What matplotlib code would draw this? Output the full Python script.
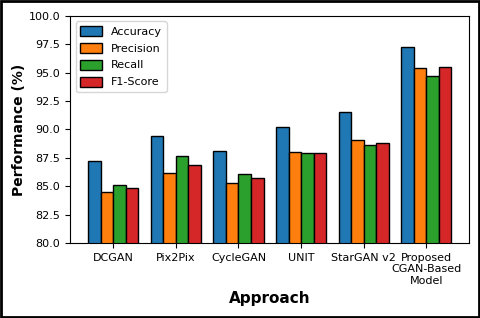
import matplotlib.pyplot as plt
import numpy as np

approaches = ["DCGAN", "Pix2Pix", "CycleGAN", "UNIT", "StarGAN v2",
              "Proposed\nCGAN-Based\nModel"]
accuracy = [87.2, 89.4, 88.1, 90.2, 91.5, 97.3]
precision = [84.5, 86.2, 85.3, 88.0, 89.1, 95.4]
recall = [85.1, 87.7, 86.1, 87.9, 88.6, 94.7]
f1_score = [84.8, 86.9, 85.7, 87.9, 88.8, 95.5]

metrics = [("Accuracy", accuracy), ("Precision", precision),
           ("Recall", recall), ("F1-Score", f1_score)]

fig = plt.figure(figsize=(4.8, 3.18), dpi=100)
ax = fig.add_axes([0.146, 0.236, 0.832, 0.714])

x = np.arange(len(approaches))
w = 0.2
for i, (name, vals) in enumerate(metrics):
    ax.bar(x + (i - 1.5) * w, vals, w, label=name, edgecolor="black", linewidth=1)

ax.set_ylim(80, 100)
ax.set_yticks(np.arange(80, 100.1, 2.5))
ax.set_yticklabels([f"{v:.1f}" for v in np.arange(80, 100.1, 2.5)])
ax.set_xticks(x)
ax.set_xticklabels(approaches, fontsize=8)
ax.tick_params(axis="y", labelsize=8)
ax.set_xlabel("Approach", fontsize=11, fontweight="bold")
ax.set_ylabel("Performance (%)", fontsize=10, fontweight="bold", labelpad=2)
ax.legend(loc="upper left", fontsize=8, handleheight=1.0, labelspacing=0.55)

# black frame round the whole figure
fig.patches.append(plt.Rectangle((0.003, 0.004), 0.994, 0.992, transform=fig.transFigure,
                                 fill=False, edgecolor="black", linewidth=2))

fig.savefig("out.png", dpi=100)
